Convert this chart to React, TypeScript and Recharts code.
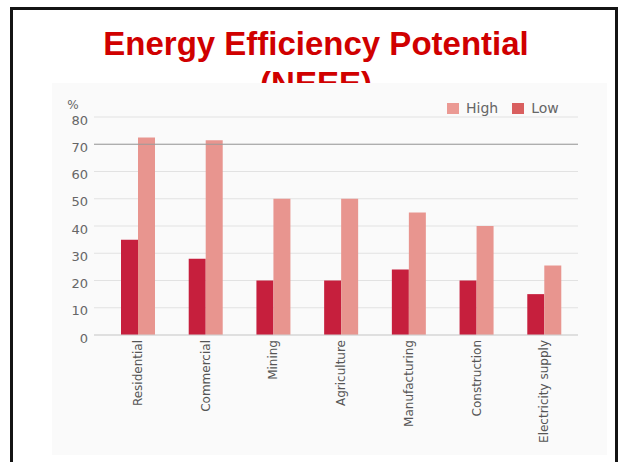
import { Bar, BarChart, CartesianGrid, Legend, ReferenceLine, XAxis, YAxis } from "recharts";

const sectors = [
  "Residential",
  "Commercial",
  "Mining",
  "Agriculture",
  "Manufacturing",
  "Construction",
  "Electricity supply",
];
const lowPotential = [35, 28, 20, 20, 24, 20, 15];
const highPotential = [72.5, 71.5, 50, 50, 45, 40, 25.5];
const percentTicks = [0, 10, 20, 30, 40, 50, 60, 70, 80];

const legendItems = [
  { name: "High", color: "#eb9a94" },
  { name: "Low", color: "#d95f5f" },
];

const rows = sectors.map((sector, i) => ({
  sector,
  low: lowPotential[i],
  high: highPotential[i],
}));

const chartFont = '"DejaVu Sans", sans-serif';

function SectorTick({ x, y, payload }: any) {
  return (
    <text
      x={x}
      y={y}
      transform={`rotate(-90, ${x}, ${y})`}
      textAnchor="end"
      dy="0.35em"
      fontSize={12}
      fill="#555"
      fontFamily={chartFont}
    >
      {payload.value}
    </text>
  );
}

function LegendBox() {
  return (
    <div style={{ display: "flex", fontFamily: chartFont, fontSize: 14, lineHeight: "12px", color: "#666" }}>
      {legendItems.map((item) => (
        <span key={item.name} style={{ display: "flex", alignItems: "center", marginRight: 14 }}>
          <span style={{ width: 12, height: 11, background: item.color, marginRight: 7 }} />
          {item.name}
        </span>
      ))}
    </div>
  );
}

export default function App() {
  return (
    <div style={{ position: "absolute", top: 0, left: 0, width: 620, height: 462, overflow: "hidden", background: "#fff" }}>
      <div
        style={{
          position: "absolute",
          left: 10,
          top: 7,
          width: 608,
          height: 480,
          border: "3px solid #141414",
          boxSizing: "border-box",
        }}
      />
      <div
        style={{
          position: "absolute",
          left: 0,
          top: 24,
          width: 632,
          textAlign: "center",
          fontFamily: '"Liberation Sans", Arial, sans-serif',
          fontWeight: "bold",
          fontSize: 33,
          lineHeight: "40px",
          color: "#d00000",
        }}
      >
        Energy Efficiency Potential
        <br />
        (NEEE)
      </div>
      <div style={{ position: "absolute", left: 52, top: 83, width: 555, height: 372, background: "#fafafa" }}>
        <BarChart
          width={555}
          height={372}
          data={rows}
          margin={{ top: 34, right: 29, left: 0, bottom: 0 }}
          barGap={0}
        >
          <CartesianGrid stroke="#e2e2e2" vertical={false} />
          <XAxis
            dataKey="sector"
            interval={0}
            height={120}
            padding={{ left: 10, right: 0 }}
            tickLine={false}
            tickSize={0}
            tickMargin={5}
            axisLine={{ stroke: "#d0d0d0" }}
            tick={<SectorTick />}
          />
          <YAxis
            width={42}
            domain={[0, 80]}
            ticks={percentTicks}
            tickLine={false}
            axisLine={false}
            tickSize={0}
            tickMargin={6}
            tick={{ fill: "#666", fontSize: 13, fontFamily: chartFont, dy: 3 }}
            label={{ value: "%", position: "top", offset: 8, fill: "#666", fontSize: 12, fontFamily: chartFont }}
          />
          <ReferenceLine y={70} stroke="#9a9a9a" />
          <Legend
            verticalAlign="middle"
            align="center"
            content={<LegendBox />}
            wrapperStyle={{ top: 19, left: 395, width: "auto", height: 12 }}
          />
          <Bar dataKey="low" name="Low" fill="#c61f3d" barSize={17} isAnimationActive={false} />
          <Bar dataKey="high" name="High" fill="#e8958f" barSize={17} isAnimationActive={false} />
        </BarChart>
      </div>
    </div>
  );
}
